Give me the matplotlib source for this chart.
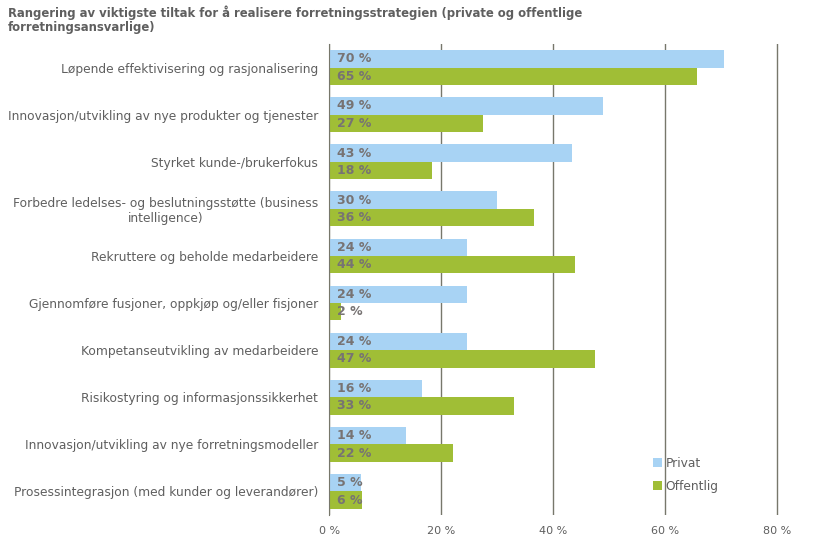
import numpy as np
import matplotlib.pyplot as plt

categories = [
    "Løpende effektivisering og rasjonalisering",
    "Innovasjon/utvikling av nye produkter og tjenester",
    "Styrket kunde-/brukerfokus",
    "Forbedre ledelses- og beslutningsstøtte (business\nintelligence)",
    "Rekruttere og beholde medarbeidere",
    "Gjennomføre fusjoner, oppkjøp og/eller fisjoner",
    "Kompetanseutvikling av medarbeidere",
    "Risikostyring og informasjonssikkerhet",
    "Innovasjon/utvikling av nye forretningsmodeller",
    "Prosessintegrasjon (med kunder og leverandører)",
]
# bar lengths (%)
privat = [70.5, 48.9, 43.4, 30.0, 24.6, 24.6, 24.6, 16.5, 13.7, 5.7]
offentlig = [65.7, 27.4, 18.3, 36.5, 43.9, 2.0, 47.5, 33.0, 22.0, 5.8]
# data labels as printed on the bars
privat_lbl = [70, 49, 43, 30, 24, 24, 24, 16, 14, 5]
offentlig_lbl = [65, 27, 18, 36, 44, 2, 47, 33, 22, 6]
xticks = [0, 20, 40, 60, 80]

c_privat = '#A8D3F4'
c_off = '#A0BE36'
grey = '#5F5F5F'

fig = plt.figure(figsize=(8.19, 5.51), dpi=100)
# 5.6 px per percent, axis starts at x=329 px
ax = fig.add_axes([329.3 / 819, 1 - 515 / 551, 81 * 5.6 / 819, 471 / 551])

y = np.arange(len(categories))
h = 0.37
ax.barh(y - h / 2, privat, height=h, color=c_privat, label='Privat')
ax.barh(y + h / 2, offentlig, height=h, color=c_off, label='Offentlig')

for yi, v in zip(y, privat_lbl):
    ax.text(1.3, yi - h / 2, f"{v} %", va='center', ha='left',
            fontsize=9, fontweight='bold', color='#777373')
for yi, v in zip(y, offentlig_lbl):
    ax.text(1.3, yi + h / 2, f"{v} %", va='center', ha='left',
            fontsize=9, fontweight='bold', color='#777373')

ax.set_ylim(len(categories) - 0.5, -0.5)
ax.set_xlim(0, 81)
ax.set_yticks(y)
ax.set_yticklabels(categories, fontsize=8.8, color=grey)
for t in ax.get_yticklabels():
    t.set_multialignment('center')
ax.tick_params(axis='y', length=0, pad=8)
ax.set_xticks(xticks)
ax.set_xticklabels([f"{t} %" for t in xticks], fontsize=8, color=grey)
ax.tick_params(axis='x', length=0, pad=8)

ax.set_axisbelow(True)
ax.grid(axis='x', color='#77776B', linewidth=1)
for s in ['top', 'right', 'bottom']:
    ax.spines[s].set_visible(False)
ax.spines['left'].set_color('#77776B')

leg = ax.legend(loc='lower left', bbox_to_anchor=(0.69, 0.024), frameon=False,
                fontsize=8.8, handlelength=0.7, handleheight=0.7,
                handletextpad=0.3, labelspacing=0.8)
for t in leg.get_texts():
    t.set_color(grey)

fig.text(0.01, 0.99, "Rangering av viktigste tiltak for å realisere forretningsstrategien (private og offentlige\nforretningsansvarlige)",
         ha='left', va='top', fontsize=8.4, fontweight='bold', color=grey, linespacing=1.1)

fig.savefig('out.png', dpi=100)
